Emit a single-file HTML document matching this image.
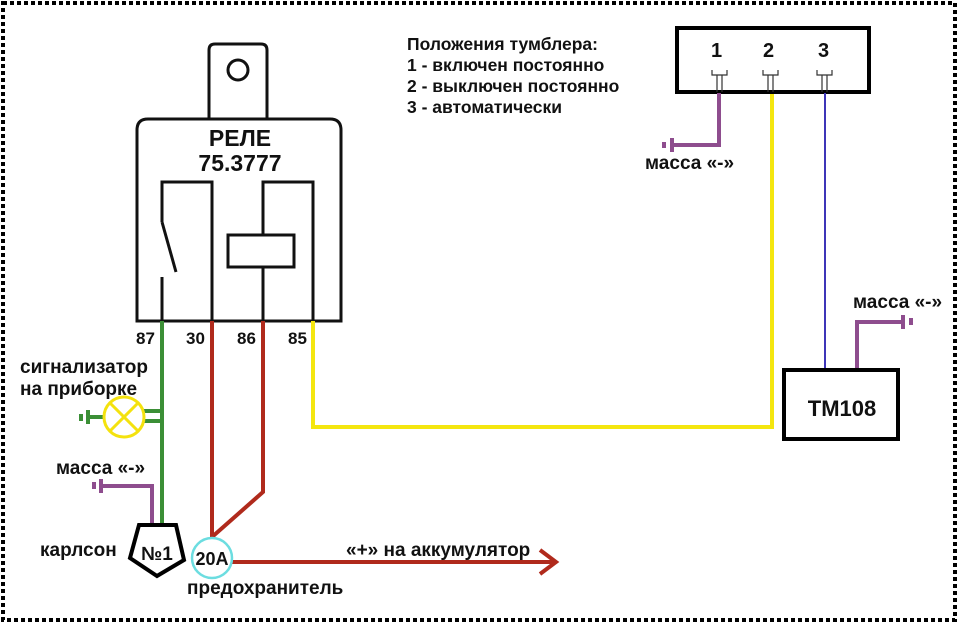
<!DOCTYPE html>
<html><head><meta charset="utf-8"><style>
body{margin:0;background:#fff;width:960px;height:626px;overflow:hidden}
text{font-family:"Liberation Sans",sans-serif;font-weight:bold;fill:#111}
</style></head><body>
<svg width="960" height="626" viewBox="0 0 960 626" xmlns="http://www.w3.org/2000/svg">
<rect x="3" y="3" width="952" height="617" fill="none" stroke="#000" stroke-width="4" stroke-dasharray="4 3"/>
<g fill="none" stroke="#111" stroke-width="3">
<path d="M209 119 V50 Q209 44 215 44 H261 Q267 44 267 50 V119"/>
<circle cx="238" cy="70" r="10"/>
<path d="M137 321 V130 Q137 119 148 119 H330 Q341 119 341 130 V321 Z"/>
<path d="M162 321 V277 M162 222 L176 272 M162 222 V182 H212 V321"/>
<path d="M263 321 V267 M263 235 V182 H313 V321"/>
<rect x="228" y="235" width="66" height="32"/>
</g>
<text x="240" y="146" font-size="23" text-anchor="middle">РЕЛЕ</text>
<text x="240" y="171" font-size="23" text-anchor="middle">75.3777</text>
<g font-size="17">
<text x="136" y="344">87</text><text x="186" y="344">30</text><text x="237" y="344">86</text><text x="288" y="344">85</text>
</g>
<g stroke="#3b8f36" stroke-width="4" fill="none">
<path d="M162 321 V524"/>
<path d="M144 411 H162 M144 421 H162"/>
<path d="M88 417 H104 M88 410 V424"/>
<path d="M81 414 V421"/>
</g>
<circle cx="124" cy="417" r="20" fill="none" stroke="#f4e20e" stroke-width="3"/>
<path d="M110 403 L138 431 M138 403 L110 431" stroke="#f4e20e" stroke-width="3"/>
<text x="20" y="373" font-size="19">сигнализатор</text>
<text x="20" y="395" font-size="19">на приборке</text>
<text x="56" y="474" font-size="19">масса «-»</text>
<g stroke="#8e4d8e" stroke-width="4" fill="none">
<path d="M101 486 H152 V524 M101 479 V493 M94 482 V489"/>
</g>
<polygon points="139,525 176,525 184,560 157,576 130,558" fill="#fff" stroke="#000" stroke-width="4"/>
<text x="157" y="560" font-size="19" text-anchor="middle">№1</text>
<text x="40" y="556" font-size="19">карлсон</text>
<g stroke="#b02a1c" stroke-width="4" fill="none">
<path d="M212 321 V537 M263 321 V492 L212 537"/>
<path d="M232 562 H555 M540 550 L556 562 L540 574"/>
</g>
<circle cx="212" cy="558" r="20" fill="#fff" stroke="#6cdde0" stroke-width="2.5"/>
<text x="212" y="565" font-size="18" text-anchor="middle">20A</text>
<text x="187" y="594" font-size="19">предохранитель</text>
<text x="346" y="556" font-size="19">«+» на аккумулятор</text>
<path d="M313 321 V427 H772 V93" stroke="#f4e60f" stroke-width="4" fill="none"/>
<rect x="677" y="28" width="192" height="64" fill="none" stroke="#000" stroke-width="4"/>
<g font-size="20"><text x="711" y="57">1</text><text x="763" y="57">2</text><text x="818" y="57">3</text></g>
<g stroke="#333" stroke-width="1.2" fill="none">
<path d="M712 70 V75 H727 V70 M717 75 V92 M722 75 V92"/>
<path d="M763 70 V75 H778 V70 M768 75 V92 M773 75 V92"/>
<path d="M817 70 V75 H832 V70 M822 75 V92 M827 75 V92"/>
</g>
<path d="M719 93 V145 H672 M672 138 V152 M664 142 V148" stroke="#8e4d8e" stroke-width="4" fill="none"/>
<text x="645" y="169" font-size="19">масса «-»</text>
<path d="M825 93 V370" stroke="#3d35b8" stroke-width="2" fill="none"/>
<path d="M857 370 V322 H903 M903 315 V329 M911 318 V325" stroke="#8e4d8e" stroke-width="4" fill="none"/>
<text x="853" y="308" font-size="19">масса «-»</text>
<rect x="784" y="370" width="114" height="69" fill="#fff" stroke="#000" stroke-width="4"/>
<text x="842" y="416" font-size="22" text-anchor="middle">ТМ108</text>
<g font-size="17.5">
<text x="407" y="50">Положения тумблера:</text>
<text x="407" y="71">1 - включен постоянно</text>
<text x="407" y="92">2 - выключен постоянно</text>
<text x="407" y="113">3 - автоматически</text>
</g>
</svg>
</body></html>
